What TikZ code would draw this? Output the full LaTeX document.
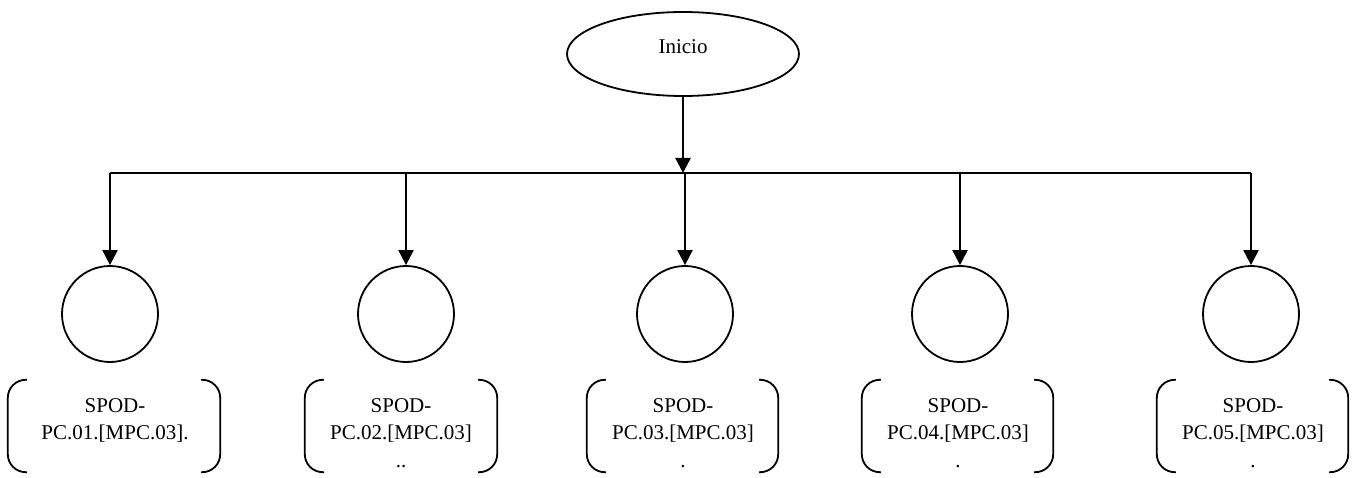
\documentclass[tikz,border=0pt]{standalone}
\usepackage{fontspec}
\setmainfont{Liberation Serif}
\usetikzlibrary{shapes.geometric,arrows.meta}

\tikzset{
  every node/.style={font=\fontsize{21}{27.5}\selectfont, inner sep=0pt},
  startnode/.style={ellipse, draw, line width=1.8pt, minimum width=232pt, minimum height=84pt},
  stage/.style={circle, draw, line width=1.8pt, minimum size=96pt},
  stagelabel/.style={align=center, anchor=north},
  holder/.style={minimum width=#1, minimum height=92pt},
  bus/.style={line width=1.4pt},
  feed/.style={line width=2.2pt, -{Triangle[length=15pt,width=15pt]}},
  bracket/.style={line width=1.8pt, rounded corners=18pt}
}

\begin{document}
\begin{tikzpicture}[x=1pt,y=-1pt]
\useasboundingbox (0,0) rectangle (1359,478);

% start node
\node[startnode] (start) at (683,54) {};
\node at (683,47) (starttext) {Inicio};

% distribution bus
\coordinate (split) at (685,173);
\coordinate (busL) at (110,173);
\coordinate (busR) at (1251,173);
\draw[bus] (busL) -- (busR);
\draw[feed] (start.south) -- (start.south |- split);

% stages
\foreach \i/\x in {1/110, 2/406, 3/685, 4/960, 5/1251} {
  \node[stage] (c\i) at (\x,314) {};
  \coordinate (t\i) at (\x,173);
  \draw[feed] (t\i) -- (c\i.north);
}

% label holders with bracket sides
\foreach \i/\l/\r in {1/8/220, 2/305/497, 3/587/778, 4/862/1053, 5/1157/1348} {
  \pgfmathsetmacro\w{\r-\l}
  \pgfmathsetmacro\m{(\l+\r)/2}
  \node[holder=\w pt] (b\i) at (\m,426) {};
  \draw[bracket] ([xshift=19pt]b\i.north west) -- (b\i.north west)
                 -- (b\i.south west) -- ([xshift=19pt]b\i.south west);
  \draw[bracket] ([xshift=-19pt]b\i.north east) -- (b\i.north east)
                 -- (b\i.south east) -- ([xshift=-19pt]b\i.south east);
}

\node[stagelabel] (l1) at (115,398) {SPOD-\\PC.01.[MPC.03].};
\node[stagelabel] (l2) at (401,398) {SPOD-\\PC.02.[MPC.03]\\..};
\node[stagelabel] (l3) at (683,398) {SPOD-\\PC.03.[MPC.03]\\.};
\node[stagelabel] (l4) at (958,398) {SPOD-\\PC.04.[MPC.03]\\.};
\node[stagelabel] (l5) at (1253,398) {SPOD-\\PC.05.[MPC.03]\\.};
\end{tikzpicture}
\end{document}
